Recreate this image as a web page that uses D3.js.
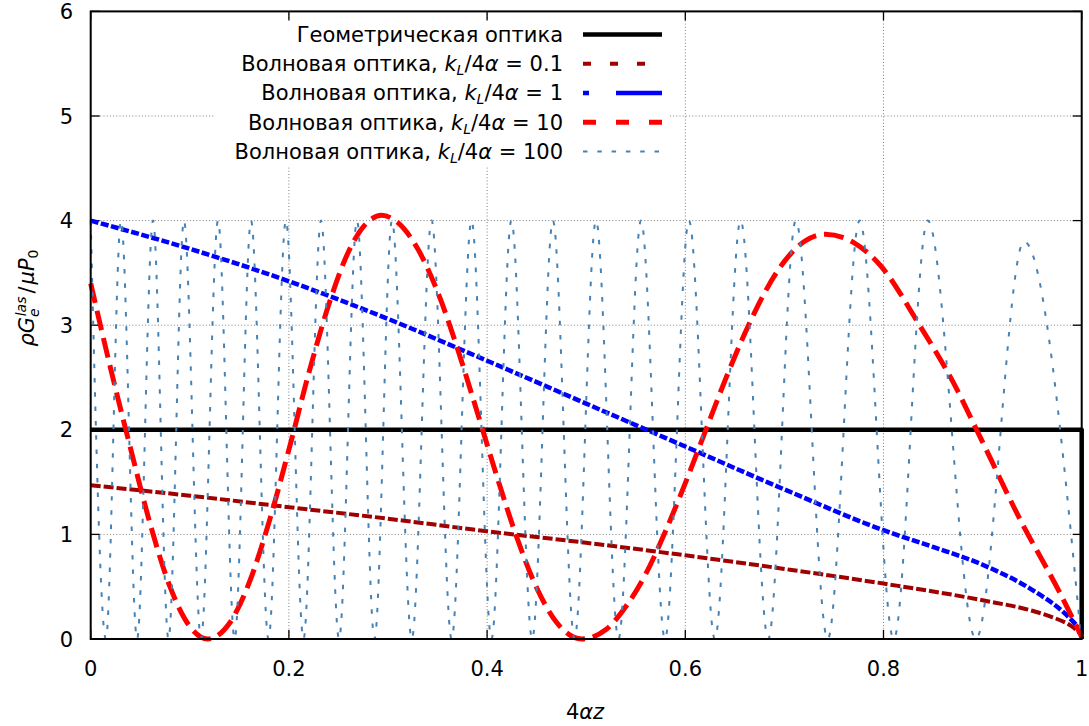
<!DOCTYPE html>
<html>
<head>
<meta charset="utf-8">
<script src="https://cdn.jsdelivr.net/npm/d3@7"></script>
<style>
  html, body { margin: 0; padding: 0; background: #fff; }
</style>
</head>
<body>
<svg id="chart" width="1089" height="726" font-family="'DejaVu Sans', sans-serif"></svg>
<script>
// Axis ticks
const xTicks = [0, 0.2, 0.4, 0.6, 0.8, 1];
const xTickLabels = ["0", "0.2", "0.4", "0.6", "0.8", "1"];
const yTicks = [0, 1, 2, 3, 4, 5, 6];
const yTickLabels = ["0", "1", "2", "3", "4", "5", "6"];

// Geometric optics
const geomX = [0, 1, 1];
const geomY = [2, 2, 0];

// Wave optics, kL/4α = 0.1
const k01X = [0, 0.1, 0.2, 0.3, 0.4, 0.5, 0.6, 0.7, 0.8, 0.9, 0.95, 0.97, 0.99, 1.0];
const k01Y = [1.47, 1.37, 1.26, 1.15, 1.03, 0.92, 0.80, 0.67, 0.53, 0.37, 0.27, 0.21, 0.12, 0.04];

// Wave optics, kL/4α = 1
const k1X = [0, 0.1, 0.2, 0.3, 0.4, 0.5, 0.6, 0.7, 0.8, 0.85, 0.9, 0.95, 0.98, 1.0];
const k1Y = [4.0, 3.73, 3.42, 3.06, 2.66, 2.25, 1.84, 1.43, 1.04, 0.88, 0.71, 0.47, 0.27, 0.08];

// Wave optics, kL/4α = 10
const k10X = [0, 0.02, 0.04, 0.06, 0.08, 0.1, 0.118, 0.14, 0.16, 0.18, 0.2, 0.22, 0.24, 0.26, 0.28, 0.2936,
              0.31, 0.33, 0.35, 0.37, 0.39, 0.41, 0.43, 0.45, 0.47, 0.4955,
              0.52, 0.54, 0.56, 0.58, 0.6, 0.62, 0.64, 0.66, 0.68, 0.7, 0.72, 0.741,
              0.77, 0.796, 0.837, 0.87, 0.894, 0.938, 0.978, 1.0];
const k10Y = [3.40, 2.59, 1.83, 1.10, 0.50, 0.12, 0, 0.15, 0.54, 1.12, 1.81, 2.54, 3.19, 3.70, 3.99, 4.05,
              3.98, 3.73, 3.32, 2.78, 2.17, 1.55, 0.97, 0.49, 0.16, 0,
              0.09, 0.31, 0.62, 1.03, 1.49, 1.98, 2.47, 2.92, 3.31, 3.61, 3.80, 3.87,
              3.79, 3.58, 2.99, 2.46, 2.0, 1.14, 0.44, 0.02];

// Wave optics, kL/4α = 100 (maxima and minima of the oscillation)
const k100X = [0, 0.0153, 0.0306, 0.0468, 0.0629, 0.0785, 0.0941, 0.1113, 0.1285, 0.1452, 0.1618,
               0.1794, 0.1970, 0.2147, 0.2324, 0.2506, 0.2687, 0.2864, 0.3040, 0.3240, 0.3440,
               0.3642, 0.3843, 0.4044, 0.4245, 0.4455, 0.4664, 0.4882, 0.5099, 0.5326, 0.5553,
               0.5795, 0.6037, 0.6298, 0.6558, 0.6837, 0.7115, 0.7437, 0.7759, 0.8103, 0.8446,
               0.8932, 0.9418, 0.9995];
const k100Y = [4, 0, 4, 0, 4, 0, 4, 0, 4, 0, 4,
               0, 4, 0, 4, 0, 4, 0, 4, 0, 4,
               0, 4, 0, 4, 0, 4, 0, 4, 0, 4,
               0, 4, 0, 4, 0, 4, 0, 4, 0, 4,
               0, 3.8, 0];

const legendLabels = [
  { text: "Геометрическая оптика", val: null },
  { text: "Волновая оптика, ", val: "0.1" },
  { text: "Волновая оптика, ", val: "1" },
  { text: "Волновая оптика, ", val: "10" },
  { text: "Волновая оптика, ", val: "100" }
];

const svg = d3.select("#chart");
const plotL = 90.7, plotR = 1081.7, plotT = 11.4, plotB = 639;
const x = d3.scaleLinear().domain([0, 1]).range([plotL, plotR]);
const y = d3.scaleLinear().domain([0, 6]).range([plotB, plotT]);
const FS = 21, FS_SMALL = 14;

// grid
const grid = svg.append("g").attr("stroke", "#7a7a7a").attr("stroke-width", 1).attr("stroke-dasharray", "1,2.2");
xTicks.slice(1, -1).forEach(v => {
  grid.append("line").attr("x1", x(v)).attr("x2", x(v)).attr("y1", y(0)).attr("y2", y(6));
});
yTicks.slice(1, -1).forEach(v => {
  grid.append("line").attr("x1", x(0)).attr("x2", x(1)).attr("y1", y(v)).attr("y2", y(v));
});

// legend backdrop
svg.append("rect").attr("x", 214).attr("y", 19).attr("width", 456).attr("height", 147).attr("fill", "#fff");

// ticks (inward, mirrored)
const tk = svg.append("g").attr("stroke", "#000").attr("stroke-width", 1.3);
xTicks.forEach(v => {
  tk.append("line").attr("x1", x(v)).attr("x2", x(v)).attr("y1", y(0)).attr("y2", y(0) - 9);
  tk.append("line").attr("x1", x(v)).attr("x2", x(v)).attr("y1", y(6)).attr("y2", y(6) + 9);
});
yTicks.forEach(v => {
  tk.append("line").attr("x1", x(0)).attr("x2", x(0) + 9).attr("y1", y(v)).attr("y2", y(v));
  tk.append("line").attr("x1", x(1)).attr("x2", x(1) - 9).attr("y1", y(v)).attr("y2", y(v));
});

// tick labels
svg.append("g").selectAll("text").data(xTicks).join("text")
  .attr("x", d => x(d)).attr("y", 676).attr("text-anchor", "middle").attr("font-size", FS)
  .text((d, i) => xTickLabels[i]);
svg.append("g").selectAll("text").data(yTicks).join("text")
  .attr("x", 73).attr("y", d => y(d) + 7.5).attr("text-anchor", "end").attr("font-size", FS)
  .text((d, i) => yTickLabels[i]);

// curves
const series = [
  { xs: geomX, ys: geomY, color: "#000000", width: 4.5, dash: null, curve: d3.curveLinear },
  { xs: k01X, ys: k01Y, color: "#a00000", width: 4, dash: "10,3", curve: d3.curveMonotoneX },
  { xs: k1X, ys: k1Y, color: "#0000ff", width: 4.5, dash: "8,2.5", curve: d3.curveMonotoneX },
  { xs: k10X, ys: k10Y, color: "#ff0000", width: 5, dash: "20,8", curve: d3.curveMonotoneX },
  { xs: k100X, ys: k100Y, color: "#4682b4", width: 2, dash: "4.5,9.8", curve: d3.curveMonotoneX }
];
const legendDash = [null, "8,19", "6,27,46", "13,20", "4.5,9.8"];

series.forEach(s => {
  const pts = s.xs.map((v, i) => [v, s.ys[i]]);
  const line = d3.line().x(d => x(d[0])).y(d => y(d[1])).curve(s.curve);
  svg.append("path").attr("d", line(pts)).attr("fill", "none")
    .attr("stroke", s.color).attr("stroke-width", s.width)
    .attr("stroke-dasharray", s.dash).attr("stroke-linejoin", "round");
});

// border
svg.append("rect").attr("x", plotL).attr("y", plotT).attr("width", plotR - plotL).attr("height", plotB - plotT)
  .attr("fill", "none").attr("stroke", "#000").attr("stroke-width", 2);

// legend
const lg = svg.append("g");
legendLabels.forEach((L, i) => {
  const base = 41.7 + i * 29.3;
  const t = lg.append("text").attr("x", 563).attr("y", base).attr("text-anchor", "end").attr("font-size", FS);
  t.append("tspan").text(L.text);
  if (L.val !== null) {
    t.append("tspan").attr("font-style", "italic").text("k");
    t.append("tspan").attr("font-style", "italic").attr("font-size", FS_SMALL).attr("dy", 4).text("L");
    t.append("tspan").attr("dy", -4).text("/4");
    t.append("tspan").attr("font-style", "italic").text("α");
    t.append("tspan").text(" = " + L.val);
  }
  const s = series[i];
  lg.append("line").attr("x1", 583).attr("x2", 662).attr("y1", base - 7.3).attr("y2", base - 7.3)
    .attr("stroke", s.color).attr("stroke-width", s.width).attr("stroke-dasharray", legendDash[i]);
});

// axis titles
const xt = svg.append("text").attr("x", 585).attr("y", 719).attr("text-anchor", "middle").attr("font-size", FS);
xt.append("tspan").text("4");
xt.append("tspan").attr("font-style", "italic").text("αz");

const yt = svg.append("text").attr("transform", "translate(34,298) rotate(-90)")
  .attr("text-anchor", "middle").attr("font-size", FS);
yt.append("tspan").attr("font-style", "italic").text("ρG");
yt.append("tspan").attr("font-style", "italic").attr("font-size", FS_SMALL).attr("dy", 5).text("e");
yt.append("tspan").attr("font-style", "italic").attr("font-size", FS_SMALL).attr("dx", -8).attr("dy", -13).text("las");
yt.append("tspan").attr("dy", 8).attr("dx", 3).text("/");
yt.append("tspan").attr("font-style", "italic").attr("dx", 2).text("μP");
yt.append("tspan").attr("font-size", FS_SMALL).attr("dy", 4).text("0");
</script>
</body>
</html>
